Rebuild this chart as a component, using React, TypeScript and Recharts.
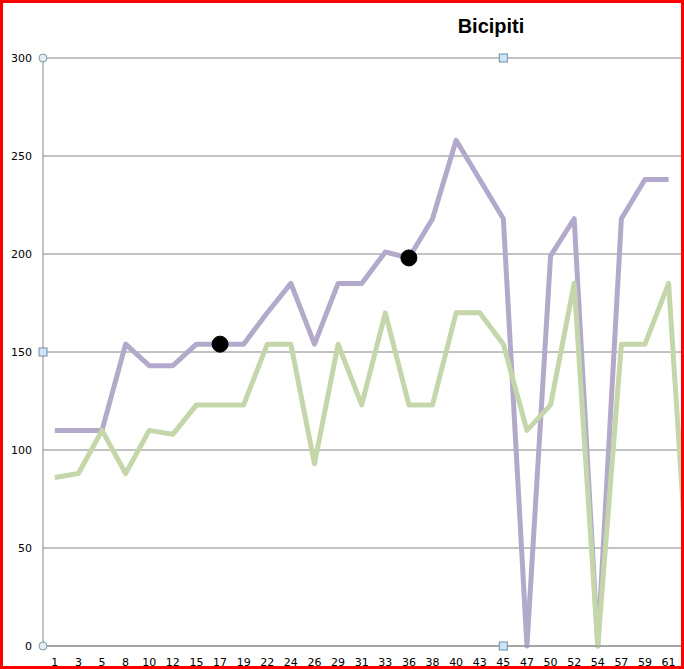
import React from 'react';
import { LineChart, Line, XAxis, YAxis, CartesianGrid, ReferenceDot } from 'recharts';

const categories = ["1","3","5","8","10","12","15","17","19","22","24","26","29","31","33","36","38","40","43","45","47","50","52","54","57","59","61","64"];
const upperSeries = [110,110,110,154,143,143,154,154,154,170,185,154,185,185,201,198,218,258,238,218,0,199,218,0,218,238,238,null];
const lowerSeries = [86,88,110,88,110,108,123,123,123,154,154,93,154,123,170,123,123,170,170,154,110,123,185,0,154,154,185,0];
const highlightPoints = [null,null,null,null,null,null,null,154,null,null,null,null,null,null,null,198,null,null,null,null,null,null,null,null,null,null,null,null];
const yTicks = [0, 50, 100, 150, 200, 250, 300];
const title = "Bicipiti";

const data = categories.map((c, i) => ({
  cat: c,
  upper: upperSeries[i],
  lower: lowerSeries[i],
  mark: highlightPoints[i],
}));

const FONT = '"DejaVu Sans", Verdana, sans-serif';
const GRID = '#868686';

function YTick(props: any) {
  const { x, y, payload } = props;
  const v = payload.value;
  const ax = x + 11;
  return (
    <g>
      <text x={x} y={y} dy={4} textAnchor="end" fontSize={11} fontFamily={FONT} fill="#000">{v}</text>
      {(v === 300 || v === 0) && <circle cx={ax} cy={y} r={4} fill="#e3ecf3" stroke="#7f9ab0" strokeWidth={1} />}
      {v === 150 && <rect x={ax - 4} y={y - 4} width={8} height={8} fill="#cfe5f5" stroke="#6f90ab" strokeWidth={1} />}
    </g>
  );
}

function XTick(props: any) {
  const { x, y, payload } = props;
  return (
    <text x={x} y={y} dy={9} textAnchor="middle" fontSize={11} fontFamily={FONT} fill="#000">{payload.value}</text>
  );
}

const squareShape = (p: any) => (
  <rect x={p.cx - 4} y={p.cy - 4} width={8} height={8} fill="#cfe5f5" stroke="#6f90ab" strokeWidth={1} />
);

export default function App() {
  return (
    <div style={{ position: 'fixed', left: 0, top: 0, width: 684, height: 669, overflow: 'hidden', background: '#fff' }}>
      <LineChart width={704} height={700} data={data} margin={{ top: 58, right: 0, bottom: 0, left: 0 }}>
        <CartesianGrid vertical={false} stroke={GRID} strokeWidth={1} />
        <XAxis
          dataKey="cat"
          interval={0}
          tickLine={false}
          tickSize={0}
          tickMargin={11}
          height={54}
          padding={{ left: 11.8, right: 11.8 }}
          axisLine={{ stroke: GRID }}
          tick={<XTick />}
        />
        <YAxis
          domain={[0, 300]}
          ticks={yTicks}
          width={43}
          tickLine={false}
          tickSize={0}
          tickMargin={11}
          axisLine={{ stroke: GRID }}
          tick={<YTick />}
          interval={0}
        />
        <Line type="linear" dataKey="upper" stroke="#b3aacb" strokeWidth={5} dot={false} activeDot={false} isAnimationActive={false} strokeLinejoin="round" />
        <Line type="linear" dataKey="lower" stroke="#c5d7aa" strokeWidth={5} dot={false} activeDot={false} isAnimationActive={false} strokeLinejoin="round" />
        <Line type="linear" dataKey="mark" stroke="none" dot={{ r: 8, fill: '#000', stroke: '#000', strokeWidth: 1 }} activeDot={false} isAnimationActive={false} />
        <ReferenceDot x="45" y={300} r={4} shape={squareShape} />
        <ReferenceDot x="45" y={0} r={4} shape={squareShape} />
      </LineChart>
      <div
        style={{
          position: 'absolute',
          left: 491,
          top: 15,
          transform: 'translateX(-50%)',
          fontFamily: '"Liberation Sans", Arial, sans-serif',
          fontWeight: 'bold',
          fontSize: 20,
          lineHeight: '23px',
          color: '#000',
          whiteSpace: 'nowrap',
        }}
      >
        {title}
      </div>
      <div style={{ position: 'absolute', left: 0, top: 0, width: 684, height: 669, border: '3px solid #ff0000', boxSizing: 'border-box', pointerEvents: 'none' }} />
    </div>
  );
}
